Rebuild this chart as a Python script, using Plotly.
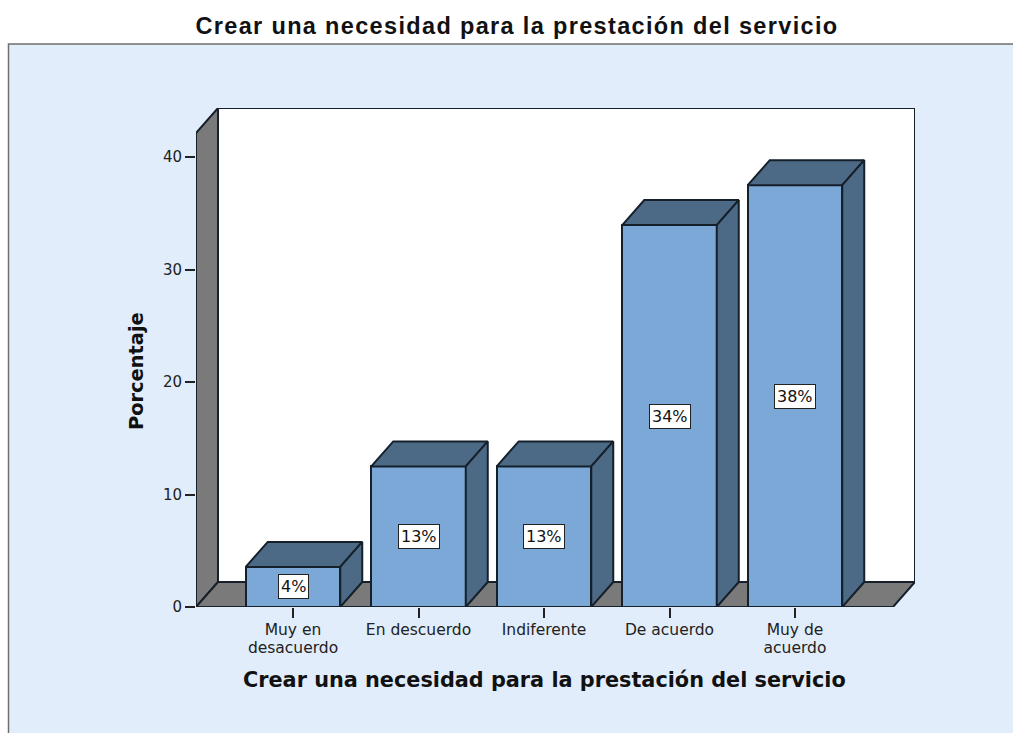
import plotly.graph_objects as go

categories = ["Muy en<br>desacuerdo", "En descuerdo", "Indiferente", "De acuerdo", "Muy de<br>acuerdo"]
values = [3.56, 12.5, 12.5, 33.95, 37.5]
labels = ["4%", "13%", "13%", "34%", "38%"]
y_ticks = [0, 10, 20, 30, 40]

TITLE = "Crear una necesidad para la prestación del servicio"
Y_TITLE = "Porcentaje"
FRONT, SIDE, WALL, BG = "#7ba8d6", "#4c6a86", "#7a7a7a", "#e1edfa"
EDGE = "#15202b"
FONT = "DejaVu Sans"

W, H = 1013, 733
L, R, T, B = 196, 915, 108, 607
PX_X = 125.5
PX_Y = 11.25
X0 = 293
xr = [(L - X0) / PX_X, (R - X0) / PX_X]
yr = [0, (B - T) / PX_Y]
DX, DY = 22 / PX_X, 25 / PX_Y
BW = 94.5 / PX_X
xs = list(range(len(values)))

fig = go.Figure()
fig.add_bar(x=xs, y=values, width=BW, marker=dict(color=FRONT, line=dict(color=EDGE, width=2)),
            hoverinfo="skip", showlegend=False)

for i, v in zip(xs, values):
    a, b = i - BW / 2, i + BW / 2
    top = dict(x=[a, a + DX, b + DX, b, a], y=[v, v + DY, v + DY, v, v])
    side = dict(x=[b, b + DX, b + DX, b, b], y=[0, DY, v + DY, v, 0])
    for p in (top, side):
        fig.add_scatter(x=p["x"], y=p["y"], mode="lines", fill="toself", fillcolor=SIDE,
                        line=dict(color=EDGE, width=2), hoverinfo="skip", showlegend=False)

for i, v, t in zip(xs, values, labels):
    fig.add_annotation(x=i, y=v / 2, text=t, showarrow=False, bgcolor="white",
                       bordercolor="#222222", borderwidth=1, borderpad=2,
                       font=dict(family=FONT, size=16, color="#111111"))

fig.add_annotation(xref="paper", yref="paper", x=(544.5 - L) / (R - L), y=(B - 680) / (B - T),
                   text=f"<b>{TITLE}</b>", showarrow=False, xanchor="center", yanchor="middle",
                   font=dict(family=FONT, size=20.8, color="#111111"))
fig.add_annotation(xref="paper", yref="paper", x=(136 - L) / (R - L), y=(B - 371) / (B - T),
                   text=f"<b>{Y_TITLE}</b>", textangle=-90, showarrow=False, xanchor="center",
                   yanchor="middle", font=dict(family=FONT, size=19.4, color="#111111"))

x_l, x_r = xr
y_t = yr[1]


def poly(pts, fill):
    path = "M " + " L ".join(f"{x} {y}" for x, y in pts) + " Z"
    return dict(type="path", path=path, xref="x", yref="y", layer="below",
                fillcolor=fill, line=dict(color=EDGE, width=2))


px = (8.5 - L) / (R - L)
py = 1 + (T - 44) / (B - T)
shapes = [
    dict(type="rect", xref="paper", yref="paper", x0=px, x1=1.3, y0=-0.4, y1=py, layer="below",
         fillcolor=BG, line=dict(color="#6f6f6f", width=1.5)),
    poly([(x_l + DX, DY), (x_r, DY), (x_r, y_t), (x_l + DX, y_t)], "white"),
    poly([(x_l, 0), (x_l + DX, DY), (x_l + DX, y_t), (x_l, y_t - DY)], WALL),
    poly([(x_l, 0), (x_r - DX, 0), (x_r, DY), (x_l + DX, DY)], WALL),
]

tick_text = ["<br>".join(f'<span style="font-size:15.5px">{p}</span>' for p in c.split("<br>"))
             for c in categories]

fig.update_layout(
    width=W, height=H, autosize=False,
    margin=dict(l=L, r=W - R, t=T, b=H - B, pad=0),
    paper_bgcolor="white", plot_bgcolor="rgba(0,0,0,0)",
    shapes=shapes, bargap=0,
    title=dict(text=f'<b><span style="letter-spacing:1.34px">{TITLE}</span></b>', x=517 / W,
               xanchor="center", y=1 - 26 / H, yanchor="middle",
               font=dict(family="Liberation Sans", size=23.5, color="#111111")),
    xaxis=dict(range=xr, tickmode="array", tickvals=xs, ticktext=tick_text, ticks="outside",
               ticklen=10, tickwidth=1.5, tickcolor="#222222", showgrid=False, zeroline=False,
               showline=False, tickangle=0,
               tickfont=dict(family=FONT, size=14, color="#222222")),
    yaxis=dict(range=yr, tickmode="array", tickvals=y_ticks, ticks="outside", ticklen=10,
               tickwidth=1.5, tickcolor="#222222", showgrid=False, zeroline=False, showline=False,
               tickfont=dict(family=FONT, size=15, color="#222222")),
)

fig.write_html("out.html", post_script="document.body.style.margin='0';",
               config={"displayModeBar": False})
